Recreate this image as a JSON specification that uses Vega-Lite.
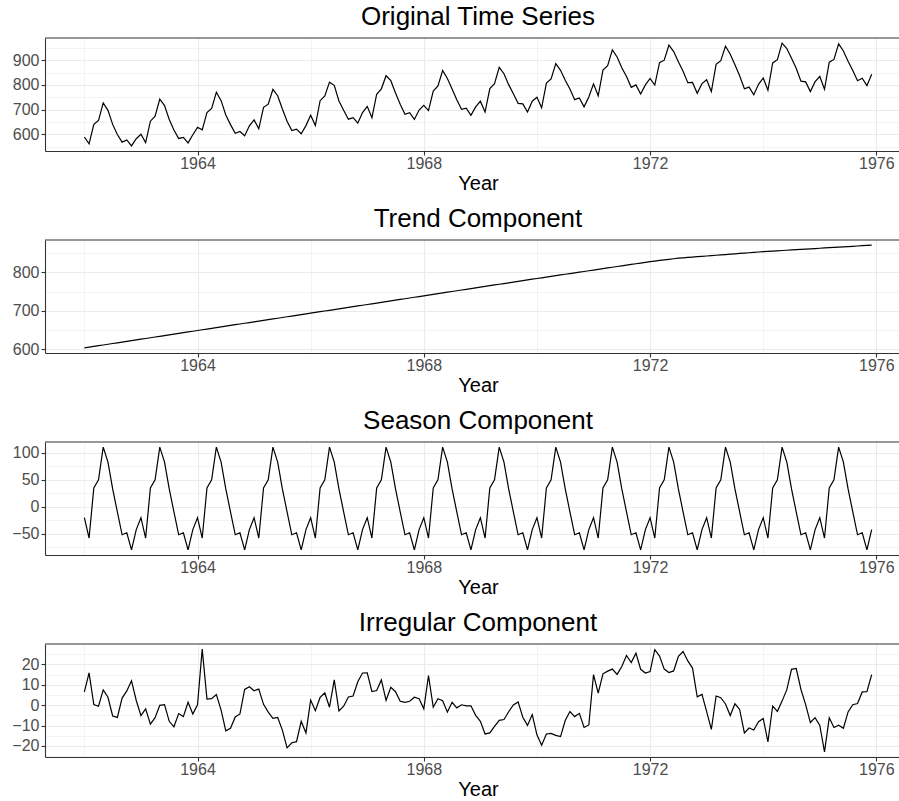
{
"$schema": "https://vega.github.io/schema/vega-lite/v6.json",
"padding": {"left": 5, "top": 4, "right": 0, "bottom": 0},
"spacing": 89,
"bounds": "flush",
"config": {
  "font": "Liberation Sans",
  "view": {"stroke": null},
  "title": {"fontSize": 26, "fontWeight": "normal", "color": "#000000", "offset": 7, "dx": 6, "font": "Liberation Sans"},
  "axis": {"gridColor": "#EBEBEB", "domainColor": "#333333", "domainWidth": 1.1, "tickColor": "#333333", "tickWidth": 1.1, "tickSize": 4, "labelPadding": 0, "labelFontSize": 16, "labelColor": "#4D4D4D", "labelFont": "Liberation Sans", "titleFont": "Liberation Sans", "titleFontSize": 20, "titleFontWeight": "normal", "titleColor": "#000000", "titlePadding": 2, "labelOverlap": false, "labelFlush": false, "tickCount": 50},
  "axisY": {"minExtent": 40, "maxExtent": 40, "labelPadding": 2}
},
"datasets": {
"milk": [
{"year":1962,"original":589,"trend":603.0,"season":-20.0,"irregular":6.5},
{"year":1962.083,"original":561,"trend":604.9,"season":-57.7,"irregular":15.8},
{"year":1962.167,"original":640,"trend":606.8,"season":34.9,"irregular":0.3},
{"year":1962.25,"original":656,"trend":608.7,"season":49.8,"irregular":-0.5},
{"year":1962.333,"original":727,"trend":610.5,"season":110.3,"irregular":7.5},
{"year":1962.417,"original":697,"trend":612.4,"season":82.7,"irregular":3.9},
{"year":1962.5,"original":640,"trend":614.3,"season":33.0,"irregular":-5.3},
{"year":1962.583,"original":599,"trend":616.2,"season":-9.2,"irregular":-6.0},
{"year":1962.667,"original":568,"trend":618.1,"season":-51.6,"irregular":3.5},
{"year":1962.75,"original":577,"trend":620.0,"season":-48.0,"irregular":7.0},
{"year":1962.833,"original":553,"trend":621.9,"season":-79.5,"irregular":12.0},
{"year":1962.917,"original":582,"trend":623.7,"season":-42.0,"irregular":2.3},
{"year":1963,"original":600,"trend":625.6,"season":-20.0,"irregular":-5.1},
{"year":1963.083,"original":566,"trend":627.5,"season":-57.7,"irregular":-1.8},
{"year":1963.167,"original":653,"trend":629.4,"season":34.9,"irregular":-9.3},
{"year":1963.25,"original":673,"trend":631.3,"season":49.8,"irregular":-6.1},
{"year":1963.333,"original":742,"trend":633.1,"season":110.3,"irregular":-0.1},
{"year":1963.417,"original":716,"trend":635.0,"season":82.7,"irregular":0.3},
{"year":1963.5,"original":660,"trend":636.9,"season":33.0,"irregular":-7.9},
{"year":1963.583,"original":617,"trend":638.8,"season":-9.2,"irregular":-10.6},
{"year":1963.667,"original":583,"trend":640.7,"season":-51.6,"irregular":-4.1},
{"year":1963.75,"original":587,"trend":642.6,"season":-48.0,"irregular":-5.6},
{"year":1963.833,"original":565,"trend":644.5,"season":-79.5,"irregular":1.4},
{"year":1963.917,"original":598,"trend":646.3,"season":-42.0,"irregular":-4.3},
{"year":1964,"original":628,"trend":648.3,"season":-20.0,"irregular":0.2},
{"year":1964.083,"original":618,"trend":650.2,"season":-57.7,"irregular":27.5},
{"year":1964.167,"original":688,"trend":652.1,"season":34.9,"irregular":3.0},
{"year":1964.25,"original":705,"trend":654.0,"season":49.8,"irregular":3.2},
{"year":1964.333,"original":770,"trend":655.8,"season":110.3,"irregular":5.2},
{"year":1964.417,"original":736,"trend":657.7,"season":82.7,"irregular":-2.4},
{"year":1964.5,"original":678,"trend":659.6,"season":33.0,"irregular":-12.6},
{"year":1964.583,"original":639,"trend":661.5,"season":-9.2,"irregular":-11.3},
{"year":1964.667,"original":604,"trend":663.4,"season":-51.6,"irregular":-5.8},
{"year":1964.75,"original":611,"trend":665.3,"season":-48.0,"irregular":-4.3},
{"year":1964.833,"original":594,"trend":667.2,"season":-79.5,"irregular":7.7},
{"year":1964.917,"original":634,"trend":669.0,"season":-42.0,"irregular":9.0},
{"year":1965,"original":658,"trend":670.9,"season":-20.0,"irregular":7.1},
{"year":1965.083,"original":622,"trend":672.8,"season":-57.7,"irregular":7.9},
{"year":1965.167,"original":709,"trend":674.7,"season":34.9,"irregular":0.4},
{"year":1965.25,"original":722,"trend":676.6,"season":49.8,"irregular":-3.4},
{"year":1965.333,"original":782,"trend":678.4,"season":110.3,"irregular":-6.4},
{"year":1965.417,"original":756,"trend":680.3,"season":82.7,"irregular":-6.0},
{"year":1965.5,"original":702,"trend":682.2,"season":33.0,"irregular":-12.2},
{"year":1965.583,"original":653,"trend":684.1,"season":-9.2,"irregular":-20.9},
{"year":1965.667,"original":615,"trend":686.0,"season":-51.6,"irregular":-18.4},
{"year":1965.75,"original":621,"trend":687.9,"season":-48.0,"irregular":-17.9},
{"year":1965.833,"original":602,"trend":689.8,"season":-79.5,"irregular":-7.9},
{"year":1965.917,"original":635,"trend":691.6,"season":-42.0,"irregular":-13.6},
{"year":1966,"original":677,"trend":693.5,"season":-20.0,"irregular":2.5},
{"year":1966.083,"original":635,"trend":695.4,"season":-57.7,"irregular":-2.7},
{"year":1966.167,"original":736,"trend":697.3,"season":34.9,"irregular":3.8},
{"year":1966.25,"original":755,"trend":699.2,"season":49.8,"irregular":6.0},
{"year":1966.333,"original":811,"trend":701.0,"season":110.3,"irregular":-1.0},
{"year":1966.417,"original":798,"trend":702.9,"season":82.7,"irregular":12.4},
{"year":1966.5,"original":735,"trend":704.8,"season":33.0,"irregular":-2.8},
{"year":1966.583,"original":697,"trend":706.7,"season":-9.2,"irregular":-0.5},
{"year":1966.667,"original":661,"trend":708.6,"season":-51.6,"irregular":4.0},
{"year":1966.75,"original":667,"trend":710.5,"season":-48.0,"irregular":4.5},
{"year":1966.833,"original":645,"trend":712.4,"season":-79.5,"irregular":11.5},
{"year":1966.917,"original":688,"trend":714.2,"season":-42.0,"irregular":15.8},
{"year":1967,"original":713,"trend":716.1,"season":-20.0,"irregular":15.9},
{"year":1967.083,"original":667,"trend":718.0,"season":-57.7,"irregular":6.7},
{"year":1967.167,"original":762,"trend":719.9,"season":34.9,"irregular":7.2},
{"year":1967.25,"original":784,"trend":721.8,"season":49.8,"irregular":12.4},
{"year":1967.333,"original":837,"trend":723.6,"season":110.3,"irregular":2.4},
{"year":1967.417,"original":817,"trend":725.5,"season":82.7,"irregular":8.8},
{"year":1967.5,"original":767,"trend":727.4,"season":33.0,"irregular":6.6},
{"year":1967.583,"original":722,"trend":729.3,"season":-9.2,"irregular":1.9},
{"year":1967.667,"original":681,"trend":731.2,"season":-51.6,"irregular":1.4},
{"year":1967.75,"original":687,"trend":733.1,"season":-48.0,"irregular":1.9},
{"year":1967.833,"original":660,"trend":735.0,"season":-79.5,"irregular":3.9},
{"year":1967.917,"original":698,"trend":736.8,"season":-42.0,"irregular":3.2},
{"year":1968,"original":717,"trend":738.8,"season":-20.0,"irregular":-1.8},
{"year":1968.083,"original":696,"trend":740.7,"season":-57.7,"irregular":14.5},
{"year":1968.167,"original":775,"trend":742.6,"season":34.9,"irregular":-1.0},
{"year":1968.25,"original":796,"trend":744.5,"season":49.8,"irregular":3.2},
{"year":1968.333,"original":858,"trend":746.3,"season":110.3,"irregular":2.2},
{"year":1968.417,"original":826,"trend":748.2,"season":82.7,"irregular":-3.4},
{"year":1968.5,"original":783,"trend":750.1,"season":33.0,"irregular":1.4},
{"year":1968.583,"original":740,"trend":752.0,"season":-9.2,"irregular":-1.3},
{"year":1968.667,"original":701,"trend":753.9,"season":-51.6,"irregular":0.2},
{"year":1968.75,"original":706,"trend":755.8,"season":-48.0,"irregular":-0.3},
{"year":1968.833,"original":677,"trend":757.7,"season":-79.5,"irregular":-0.3},
{"year":1968.917,"original":711,"trend":759.5,"season":-42.0,"irregular":-5.0},
{"year":1969,"original":734,"trend":761.4,"season":-20.0,"irregular":-7.9},
{"year":1969.083,"original":690,"trend":763.3,"season":-57.7,"irregular":-14.1},
{"year":1969.167,"original":785,"trend":765.2,"season":34.9,"irregular":-13.6},
{"year":1969.25,"original":805,"trend":767.1,"season":49.8,"irregular":-10.4},
{"year":1969.333,"original":871,"trend":768.9,"season":110.3,"irregular":-7.4},
{"year":1969.417,"original":845,"trend":770.8,"season":82.7,"irregular":-7.0},
{"year":1969.5,"original":801,"trend":772.7,"season":33.0,"irregular":-3.2},
{"year":1969.583,"original":764,"trend":774.6,"season":-9.2,"irregular":0.1},
{"year":1969.667,"original":725,"trend":776.5,"season":-51.6,"irregular":1.6},
{"year":1969.75,"original":723,"trend":778.4,"season":-48.0,"irregular":-5.9},
{"year":1969.833,"original":690,"trend":780.3,"season":-79.5,"irregular":-9.9},
{"year":1969.917,"original":734,"trend":782.1,"season":-42.0,"irregular":-4.6},
{"year":1970,"original":750,"trend":784.0,"season":-20.0,"irregular":-14.5},
{"year":1970.083,"original":707,"trend":785.8,"season":-57.7,"irregular":-19.6},
{"year":1970.167,"original":807,"trend":787.7,"season":34.9,"irregular":-14.1},
{"year":1970.25,"original":824,"trend":789.5,"season":49.8,"irregular":-13.8},
{"year":1970.333,"original":886,"trend":791.3,"season":110.3,"irregular":-14.8},
{"year":1970.417,"original":859,"trend":793.2,"season":82.7,"irregular":-15.4},
{"year":1970.5,"original":819,"trend":795.0,"season":33.0,"irregular":-7.5},
{"year":1970.583,"original":783,"trend":796.8,"season":-9.2,"irregular":-3.1},
{"year":1970.667,"original":740,"trend":798.7,"season":-51.6,"irregular":-5.6},
{"year":1970.75,"original":747,"trend":800.5,"season":-48.0,"irregular":-4.0},
{"year":1970.833,"original":711,"trend":802.3,"season":-79.5,"irregular":-10.9},
{"year":1970.917,"original":751,"trend":804.2,"season":-42.0,"irregular":-9.7},
{"year":1971,"original":804,"trend":806.0,"season":-20.0,"irregular":15.0},
{"year":1971.083,"original":756,"trend":807.8,"season":-57.7,"irregular":5.9},
{"year":1971.167,"original":860,"trend":809.7,"season":34.9,"irregular":15.4},
{"year":1971.25,"original":878,"trend":811.5,"season":49.8,"irregular":16.7},
{"year":1971.333,"original":942,"trend":813.3,"season":110.3,"irregular":17.7},
{"year":1971.417,"original":913,"trend":815.2,"season":82.7,"irregular":15.1},
{"year":1971.5,"original":869,"trend":817.0,"season":33.0,"irregular":19.0},
{"year":1971.583,"original":834,"trend":818.8,"season":-9.2,"irregular":24.4},
{"year":1971.667,"original":790,"trend":820.7,"season":-51.6,"irregular":20.9},
{"year":1971.75,"original":800,"trend":822.5,"season":-48.0,"irregular":25.5},
{"year":1971.833,"original":763,"trend":824.3,"season":-79.5,"irregular":17.6},
{"year":1971.917,"original":800,"trend":826.2,"season":-42.0,"irregular":15.8},
{"year":1972,"original":826,"trend":828.0,"season":-20.0,"irregular":16.5},
{"year":1972.083,"original":799,"trend":829.5,"season":-57.7,"irregular":27.2},
{"year":1972.167,"original":890,"trend":831.0,"season":34.9,"irregular":24.1},
{"year":1972.25,"original":900,"trend":832.5,"season":49.8,"irregular":17.7},
{"year":1972.333,"original":961,"trend":834.0,"season":110.3,"irregular":16.0},
{"year":1972.417,"original":935,"trend":835.5,"season":82.7,"irregular":16.8},
{"year":1972.5,"original":894,"trend":837.0,"season":33.0,"irregular":24.0},
{"year":1972.583,"original":855,"trend":837.9,"season":-9.2,"irregular":26.3},
{"year":1972.667,"original":809,"trend":838.9,"season":-51.6,"irregular":21.7},
{"year":1972.75,"original":810,"trend":839.8,"season":-48.0,"irregular":18.2},
{"year":1972.833,"original":766,"trend":840.8,"season":-79.5,"irregular":4.1},
{"year":1972.917,"original":805,"trend":841.7,"season":-42.0,"irregular":5.3},
{"year":1973,"original":821,"trend":842.7,"season":-20.0,"irregular":-3.2},
{"year":1973.083,"original":773,"trend":843.6,"season":-57.7,"irregular":-11.9},
{"year":1973.167,"original":883,"trend":844.6,"season":34.9,"irregular":4.5},
{"year":1973.25,"original":898,"trend":845.5,"season":49.8,"irregular":3.7},
{"year":1973.333,"original":957,"trend":846.4,"season":110.3,"irregular":0.6},
{"year":1973.417,"original":924,"trend":847.4,"season":82.7,"irregular":-5.1},
{"year":1973.5,"original":881,"trend":848.3,"season":33.0,"irregular":0.7},
{"year":1973.583,"original":837,"trend":849.3,"season":-9.2,"irregular":-2.1},
{"year":1973.667,"original":784,"trend":850.2,"season":-51.6,"irregular":-13.6},
{"year":1973.75,"original":791,"trend":851.2,"season":-48.0,"irregular":-11.2},
{"year":1973.833,"original":760,"trend":852.1,"season":-79.5,"irregular":-12.2},
{"year":1973.917,"original":802,"trend":853.1,"season":-42.0,"irregular":-8.1},
{"year":1974,"original":828,"trend":854.0,"season":-20.0,"irregular":-6.5},
{"year":1974.083,"original":778,"trend":854.7,"season":-57.7,"irregular":-18.0},
{"year":1974.167,"original":889,"trend":855.5,"season":34.9,"irregular":-0.4},
{"year":1974.25,"original":902,"trend":856.2,"season":49.8,"irregular":-3.0},
{"year":1974.333,"original":969,"trend":857.0,"season":110.3,"irregular":2.0},
{"year":1974.417,"original":947,"trend":857.7,"season":82.7,"irregular":7.6},
{"year":1974.5,"original":908,"trend":858.4,"season":33.0,"irregular":17.6},
{"year":1974.583,"original":867,"trend":859.2,"season":-9.2,"irregular":18.0},
{"year":1974.667,"original":815,"trend":859.9,"season":-51.6,"irregular":7.7},
{"year":1974.75,"original":812,"trend":860.7,"season":-48.0,"irregular":0.3},
{"year":1974.833,"original":773,"trend":861.4,"season":-79.5,"irregular":-8.5},
{"year":1974.917,"original":813,"trend":862.1,"season":-42.0,"irregular":-6.1},
{"year":1975,"original":834,"trend":862.9,"season":-20.0,"irregular":-9.9},
{"year":1975.083,"original":782,"trend":863.6,"season":-57.7,"irregular":-22.9},
{"year":1975.167,"original":892,"trend":864.3,"season":34.9,"irregular":-6.2},
{"year":1975.25,"original":903,"trend":865.1,"season":49.8,"irregular":-10.9},
{"year":1975.333,"original":966,"trend":865.8,"season":110.3,"irregular":-9.8},
{"year":1975.417,"original":937,"trend":866.6,"season":82.7,"irregular":-11.3},
{"year":1975.5,"original":896,"trend":867.3,"season":33.0,"irregular":-3.3},
{"year":1975.583,"original":858,"trend":868.0,"season":-9.2,"irregular":0.2},
{"year":1975.667,"original":817,"trend":868.8,"season":-51.6,"irregular":0.8},
{"year":1975.75,"original":827,"trend":869.5,"season":-48.0,"irregular":6.5},
{"year":1975.833,"original":797,"trend":870.3,"season":-79.5,"irregular":6.6},
{"year":1975.917,"original":843,"trend":871.0,"season":-42.0,"irregular":15.0}
],
"one": [{"k": 1}]
},
"vconcat": [
{
  "title": "Original Time Series",
  "width": 854, "height": 113,
  "layer": [
    {"data": {"name": "milk"},
     "mark": {"type": "line", "color": "#000000", "strokeWidth": 1.2},
     "encoding": {
       "x": {"field": "year", "type": "quantitative", "scale": {"domain": [1961.304, 1976.4], "nice": false, "zero": false},
             "axis": {"title": "Year", "titleX": 433, "tickCount": 50, "labelOverlap": false, "values": [1962,1964,1966,1968,1970,1972,1974,1976], "format": "d",
                      "labelExpr": "datum.value % 4 === 0 ? datum.label : ''",
                      "gridWidth": {"condition": {"test": "datum.value % 4 !== 0", "value": 0.6}, "value": 1.1},
                      "tickOpacity": {"condition": {"test": "datum.value % 4 !== 0", "value": 0}, "value": 1}}},
       "y": {"field": "original", "type": "quantitative", "scale": {"domain": [532.2, 989.8], "nice": false, "zero": false},
             "axis": {"title": null, "tickCount": 50, "labelOverlap": false, "values": [550,600,650,700,750,800,850,900,950],
                      "labelExpr": "datum.value % 100 === 0 ? datum.label : ''",
                      "gridWidth": {"condition": {"test": "datum.value % 100 !== 0", "value": 0.6}, "value": 1.1},
                      "tickOpacity": {"condition": {"test": "datum.value % 100 !== 0", "value": 0}, "value": 1}}}
     }},
    {"data": {"name": "one"},
     "mark": {"type": "rule", "color": "#333333", "strokeWidth": 1.1},
     "encoding": {"y": {"datum": 989.8, "type": "quantitative"}}}
  ]
},
{
  "title": "Trend Component",
  "width": 854, "height": 113,
  "layer": [
    {"data": {"name": "milk"},
     "mark": {"type": "line", "color": "#000000", "strokeWidth": 1.2},
     "encoding": {
       "x": {"field": "year", "type": "quantitative", "scale": {"domain": [1961.304, 1976.4], "nice": false, "zero": false},
             "axis": {"title": "Year", "titleX": 433, "tickCount": 50, "labelOverlap": false, "values": [1962,1964,1966,1968,1970,1972,1974,1976], "format": "d",
                      "labelExpr": "datum.value % 4 === 0 ? datum.label : ''",
                      "gridWidth": {"condition": {"test": "datum.value % 4 !== 0", "value": 0.6}, "value": 1.1},
                      "tickOpacity": {"condition": {"test": "datum.value % 4 !== 0", "value": 0}, "value": 1}}},
       "y": {"field": "trend", "type": "quantitative", "scale": {"domain": [589.6, 884.4], "nice": false, "zero": false},
             "axis": {"title": null, "tickCount": 50, "labelOverlap": false, "values": [600,650,700,750,800,850],
                      "labelExpr": "datum.value % 100 === 0 ? datum.label : ''",
                      "gridWidth": {"condition": {"test": "datum.value % 100 !== 0", "value": 0.6}, "value": 1.1},
                      "tickOpacity": {"condition": {"test": "datum.value % 100 !== 0", "value": 0}, "value": 1}}}
     }},
    {"data": {"name": "one"},
     "mark": {"type": "rule", "color": "#333333", "strokeWidth": 1.1},
     "encoding": {"y": {"datum": 884.4, "type": "quantitative"}}}
  ]
},
{
  "title": "Season Component",
  "width": 854, "height": 113,
  "layer": [
    {"data": {"name": "milk"},
     "mark": {"type": "line", "color": "#000000", "strokeWidth": 1.2},
     "encoding": {
       "x": {"field": "year", "type": "quantitative", "scale": {"domain": [1961.304, 1976.4], "nice": false, "zero": false},
             "axis": {"title": "Year", "titleX": 433, "tickCount": 50, "labelOverlap": false, "values": [1962,1964,1966,1968,1970,1972,1974,1976], "format": "d",
                      "labelExpr": "datum.value % 4 === 0 ? datum.label : ''",
                      "gridWidth": {"condition": {"test": "datum.value % 4 !== 0", "value": 0.6}, "value": 1.1},
                      "tickOpacity": {"condition": {"test": "datum.value % 4 !== 0", "value": 0}, "value": 1}}},
       "y": {"field": "season", "type": "quantitative", "scale": {"domain": [-89.0, 119.8], "nice": false, "zero": false},
             "axis": {"title": null, "tickCount": 50, "labelOverlap": false, "values": [-75,-50,-25,0,25,50,75,100],
                      "labelExpr": "datum.value % 50 === 0 ? datum.label : ''",
                      "gridWidth": {"condition": {"test": "datum.value % 50 !== 0", "value": 0.6}, "value": 1.1},
                      "tickOpacity": {"condition": {"test": "datum.value % 50 !== 0", "value": 0}, "value": 1}}}
     }},
    {"data": {"name": "one"},
     "mark": {"type": "rule", "color": "#333333", "strokeWidth": 1.1},
     "encoding": {"y": {"datum": 119.8, "type": "quantitative"}}}
  ]
},
{
  "title": "Irregular Component",
  "width": 854, "height": 113,
  "layer": [
    {"data": {"name": "milk"},
     "mark": {"type": "line", "color": "#000000", "strokeWidth": 1.2},
     "encoding": {
       "x": {"field": "year", "type": "quantitative", "scale": {"domain": [1961.304, 1976.4], "nice": false, "zero": false},
             "axis": {"title": "Year", "titleX": 433, "tickCount": 50, "labelOverlap": false, "values": [1962,1964,1966,1968,1970,1972,1974,1976], "format": "d",
                      "labelExpr": "datum.value % 4 === 0 ? datum.label : ''",
                      "gridWidth": {"condition": {"test": "datum.value % 4 !== 0", "value": 0.6}, "value": 1.1},
                      "tickOpacity": {"condition": {"test": "datum.value % 4 !== 0", "value": 0}, "value": 1}}},
       "y": {"field": "irregular", "type": "quantitative", "scale": {"domain": [-25.4, 30.0], "nice": false, "zero": false},
             "axis": {"title": null, "tickCount": 50, "labelOverlap": false, "values": [-25,-20,-15,-10,-5,0,5,10,15,20,25],
                      "labelExpr": "datum.value % 10 === 0 ? datum.label : ''",
                      "gridWidth": {"condition": {"test": "datum.value % 10 !== 0", "value": 0.6}, "value": 1.1},
                      "tickOpacity": {"condition": {"test": "datum.value % 10 !== 0", "value": 0}, "value": 1}}}
     }},
    {"data": {"name": "one"},
     "mark": {"type": "rule", "color": "#333333", "strokeWidth": 1.1},
     "encoding": {"y": {"datum": 30.0, "type": "quantitative"}}}
  ]
}
]
}
